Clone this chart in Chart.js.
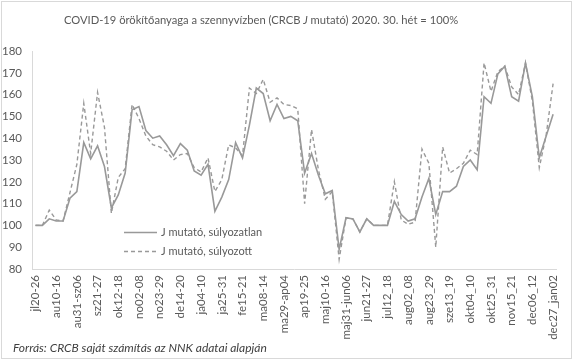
<!DOCTYPE html>
<html><head><meta charset="utf-8">
<script src="https://cdn.jsdelivr.net/npm/chart.js@4"></script>
<style>
html,body{margin:0;padding:0;background:#fff;}
#wrap{position:relative;width:573px;height:361px;}
canvas{display:block}
</style></head><body>
<div id="wrap"><canvas id="c" width="573" height="361"></canvas></div>
<script>
const categories = [
  'jl20-26','jl27-au02','au03-09','au10-16','au17-23','au24-30','au31-sz06','sz07-13','sz14-20','sz21-27',
  'sz28-ok04','ok05-11','ok12-18','ok19-25','ok26-no01','no02-08','no09-15','no16-22','no23-29','no30-de06',
  'de07-13','de14-20','de21-27','de28-ja03','ja04-10','ja11-17','ja18-24','ja25-31','fe01-07','fe08-14',
  'fe15-21','fe22-28','ma01-07','ma08-14','ma15-21','ma22-28','ma29-ap04','ap05-11','ap12-18','ap19-25',
  'ap26-maj02','maj03-09','maj10-16','maj17-23','maj24-30','maj31-jun06','jun07-13','jun14-20','jun21-27','jun28-jul04',
  'jul05_11','jul12_18','jul19_25','jul26_aug01','aug02_08','aug09_15','aug16_22','aug23_29','aug30_sze05','sze06_12',
  'sze13_19','sze20_26','sze27_okt03','okt04_10','okt11_17','okt18_24','okt25_31','nov01_07','nov08_14','nov15_21',
  'nov22_28','nov29_dec05','dec06_12','dec13_19','dec20_26','dec27_jan02'
];
const unweighted = [
  100,100,103,102,102,112.5,115.5,138,130.5,136.5,
  127,108,114,124,153,154.5,143.5,140,141,137,
  132,137.5,134.5,125,123,128,106.5,113,121,138,
  131,146,163,160.5,148,155.5,149,150,148,124,
  133,123,114.5,116,89,103.5,103,97,103,100,
  100,100,111,105,102,103,113,121.5,105,115.5,
  115.5,118,127,130,125.5,159,156,169.5,173,159,
  157,174.5,159,131,141,151
];
const weighted = [
  100,100,107,102.5,102,115,128,156,133,161,
  145,105.5,122,126,155.5,149,141,137,136,134,
  130,132.5,133,126.5,124.5,131,115.5,121,137,135.5,
  132,163,160.5,167,156.5,158.5,155.5,155,153.5,110,
  144,125.5,112,115.5,84.5,103.5,103,97,103,100,
  100,100,120,102.5,100.5,101.5,135,128.5,90,136,
  124,126,128.5,134.5,132.5,174.5,161.5,170.5,173,163.5,
  160,174.5,157,126.5,141.5,165
];
const seriesNames = ['J mutató, súlyozatlan', 'J mutató, súlyozott'];
const yMin = 80, yMax = 180, yStep = 10;
const titleParts = [['COVID-19 örökítőanyaga a szennyvízben (CRCB ', false], ['J', true], [' mutató) 2020. 30. hét = 100%', false]];
const sourceText = 'Forrás: CRCB saját számítás az NNK adatai alapján';

const FONT = 'Lato, "Open Sans", sans-serif';
const TXT = '#595959';
const LINE = '#999999';

const deco = {
  id: 'deco',
  afterDraw(chart) {
    const ctx = chart.ctx;
    ctx.save();
    ctx.strokeStyle = '#d9d9d9';
    ctx.lineWidth = 1;
    ctx.strokeRect(1.5, 1.5, 570, 357);
    ctx.fillStyle = TXT;
    ctx.textBaseline = 'middle';
    ctx.textAlign = 'left';
    let total = 0;
    const widths = titleParts.map(([t, it]) => {
      ctx.font = (it ? 'italic ' : '') + '11.2px ' + FONT;
      const w = ctx.measureText(t).width; total += w; return w;
    });
    let x = 261 - total / 2;
    titleParts.forEach(([t, it], i) => {
      ctx.font = (it ? 'italic ' : '') + '11.2px ' + FONT;
      ctx.fillText(t, x, 20);
      x += widths[i];
    });
    const items = chart.data.datasets;
    const ys = [232.5, 251.5];
    items.forEach((ds, i) => {
      ctx.strokeStyle = ds.borderColor;
      ctx.lineWidth = ds.borderWidth;
      ctx.setLineDash(ds.borderDash || []);
      ctx.beginPath();
      ctx.moveTo(124, ys[i]);
      ctx.lineTo(157, ys[i]);
      ctx.stroke();
      ctx.setLineDash([]);
      ctx.fillStyle = TXT;
      ctx.font = '11px ' + FONT;
      ctx.fillText(ds.label, 161, ys[i]);
    });
    ctx.fillStyle = '#404040';
    ctx.font = 'italic 12px ' + FONT;
    ctx.fillText(sourceText, 13, 348);
    ctx.restore();
  }
};

new Chart(document.getElementById('c'), {
  type: 'line',
  data: {
    labels: categories,
    datasets: [
      { label: seriesNames[0], data: unweighted, borderColor: LINE, borderWidth: 1.6, pointRadius: 0, fill: false, tension: 0 },
      { label: seriesNames[1], data: weighted, borderColor: LINE, borderWidth: 1.4, borderDash: [4, 3], pointRadius: 0, fill: false, tension: 0 }
    ]
  },
  options: {
    responsive: false,
    animation: false,
    layout: { padding: { left: 0, right: 16, top: 51, bottom: 20 } },
    plugins: { legend: { display: false }, title: { display: false }, tooltip: { enabled: false } },
    scales: {
      x: {
        offset: true,
        grid: { display: false, drawTicks: false },
        border: { display: true, color: '#d9d9d9', width: 1 },
        ticks: {
          autoSkip: false, maxRotation: 90, minRotation: 90, padding: 6,
          color: TXT, font: { family: FONT, size: 11.5 },
          callback: function(v, i) { return i % 3 === 0 ? this.getLabelForValue(v) : ''; }
        },
        afterFit(s) { s.height = 72; }
      },
      y: {
        min: yMin, max: yMax,
        grid: { display: false, drawTicks: false },
        border: { display: true, color: '#d9d9d9', width: 1 },
        ticks: { stepSize: yStep, padding: 10, color: TXT, font: { family: FONT, size: 11.5 } },
        afterFit(s) { s.width = 32; }
      }
    }
  },
  plugins: [deco]
});
</script>
</body></html>
